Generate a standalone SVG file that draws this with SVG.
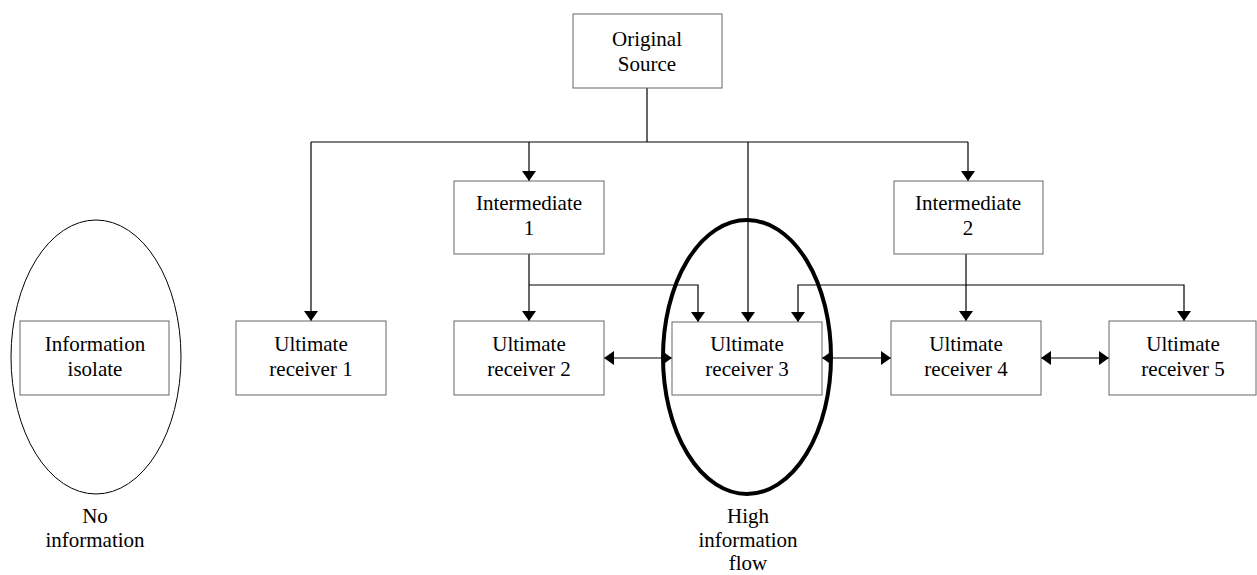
<svg xmlns="http://www.w3.org/2000/svg" width="1257" height="575" viewBox="0 0 1257 575">
<style>
.box{fill:#fff;stroke:#666;stroke-width:1}
.ln{fill:none;stroke:#000;stroke-width:1.2}
.t{font-family:"Liberation Serif","Times New Roman",serif;font-size:21px;fill:#000;text-anchor:middle}
</style>
<defs>
<marker id="ah" viewBox="0 0 10 14" refX="10" refY="7" markerWidth="10" markerHeight="14" markerUnits="userSpaceOnUse" orient="auto-start-reverse">
<path d="M0,0 L10,7 L0,14 z" fill="#000"/>
</marker>
</defs>
<rect width="1257" height="575" fill="#fff"/>
<g id="connectors">
<path class="ln" d="M647,88 V142"/>
<path class="ln" d="M311,142 H968"/>
<path class="ln" d="M311,142 V321" marker-end="url(#ah)"/>
<path class="ln" d="M529,142 V181" marker-end="url(#ah)"/>
<path class="ln" d="M748,142 V322" marker-end="url(#ah)"/>
<path class="ln" d="M968,142 V181" marker-end="url(#ah)"/>
<path class="ln" d="M529,254 V321" marker-end="url(#ah)"/>
<path class="ln" d="M529,285 H698 V322" marker-end="url(#ah)"/>
<path class="ln" d="M966,254 V321" marker-end="url(#ah)"/>
<path class="ln" d="M798,322 V285 H1184 V321" marker-start="url(#ah)" marker-end="url(#ah)"/>
<path class="ln" d="M604,358 H672" marker-start="url(#ah)" marker-end="url(#ah)"/>
<path class="ln" d="M822,358 H891" marker-start="url(#ah)" marker-end="url(#ah)"/>
<path class="ln" d="M1041,358 H1109" marker-start="url(#ah)" marker-end="url(#ah)"/>
</g>
<g id="source">
<rect class="box" x="573" y="14" width="149" height="74"/>
<text class="t" x="647" y="46">Original</text>
<text class="t" x="647" y="71">Source</text>
</g>
<g id="intermediate1">
<rect class="box" x="454" y="181" width="150" height="73"/>
<text class="t" x="529" y="210">Intermediate</text>
<text class="t" x="529" y="235">1</text>
</g>
<g id="intermediate2">
<rect class="box" x="894" y="181" width="149" height="73"/>
<text class="t" x="968" y="210">Intermediate</text>
<text class="t" x="968" y="235">2</text>
</g>
<g id="isolate">
<ellipse cx="96" cy="357" rx="85" ry="137" fill="none" stroke="#000" stroke-width="1"/>
<rect class="box" x="20" y="321" width="149" height="74"/>
<text class="t" x="95" y="351">Information</text>
<text class="t" x="95" y="376">isolate</text>
<text class="t" x="95" y="523">No</text>
<text class="t" x="95" y="547">information</text>
</g>
<g id="receiver1">
<rect class="box" x="236" y="321" width="150" height="74"/>
<text class="t" x="311" y="351">Ultimate</text>
<text class="t" x="311" y="376">receiver 1</text>
</g>
<g id="receiver2">
<rect class="box" x="454" y="321" width="150" height="74"/>
<text class="t" x="529" y="351">Ultimate</text>
<text class="t" x="529" y="376">receiver 2</text>
</g>
<g id="receiver3">
<rect class="box" x="672" y="322" width="150" height="73"/>
<text class="t" x="747" y="351">Ultimate</text>
<text class="t" x="747" y="376">receiver 3</text>
</g>
<g id="receiver4">
<rect class="box" x="891" y="321" width="150" height="74"/>
<text class="t" x="966" y="351">Ultimate</text>
<text class="t" x="966" y="376">receiver 4</text>
</g>
<g id="receiver5">
<rect class="box" x="1109" y="321" width="147" height="74"/>
<text class="t" x="1183" y="351">Ultimate</text>
<text class="t" x="1183" y="376">receiver 5</text>
</g>
<g id="highflow">
<ellipse cx="747" cy="357" rx="84" ry="137" fill="none" stroke="#000" stroke-width="4"/>
<text class="t" x="748" y="523">High</text>
<text class="t" x="748" y="547">information</text>
<text class="t" x="748" y="570">flow</text>
</g>
</svg>
